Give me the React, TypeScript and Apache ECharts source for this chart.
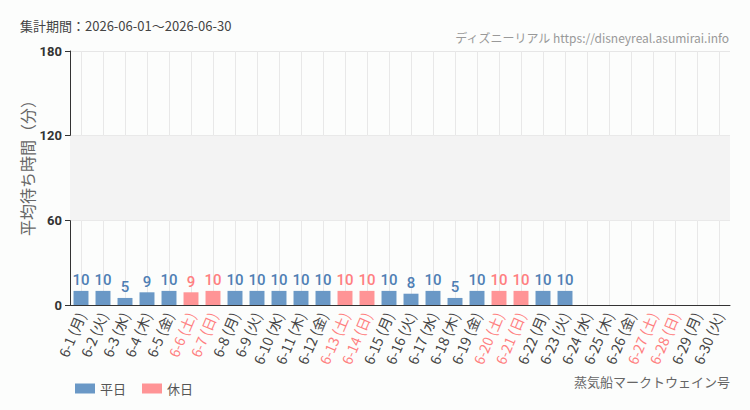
import { useEffect, useRef } from 'react'
import * as echarts from 'echarts'

const days = Array.from({ length: 30 }, (_, i) => `6-${i + 1}`)
const weekdays = ['月', '火', '水', '木', '金', '土', '日', '月', '火', '水', '木', '金', '土', '日', '月', '火', '水', '木', '金', '土', '日', '月', '火', '水', '木', '金', '土', '日', '月', '火']
const holidayFlags = [0, 0, 0, 0, 0, 1, 1, 0, 0, 0, 0, 0, 1, 1, 0, 0, 0, 0, 0, 1, 1, 0, 0, 0, 0, 0, 1, 1, 0, 0]
const waitValues: (number | null)[] = [
  10, 10, 5, 9, 10, 9, 10, 10, 10, 10,
  10, 10, 10, 10, 10, 8, 10, 5, 10, 10,
  10, 10, 10, null, null, null, null, null, null, null
]
const yTicks = [0, 60, 120, 180]

const BLUE = '#6a98c6'
const BLUE_TEXT = '#4f7fb4'
const RED = '#ff9496'
const RED_TEXT = '#ff7f80'

export default function App() {
  const chartRef = useRef<HTMLDivElement>(null)

  useEffect(() => {
    if (!chartRef.current) return
    document.body.style.margin = '0'
    const chart = echarts.init(chartRef.current, null, { renderer: 'svg' })

    const categories = days.map((d, i) => `${d} (${weekdays[i]})`)
    const weekdayData = waitValues.map((v, i) => (holidayFlags[i] ? null : v))
    const holidayData = waitValues.map((v, i) => (holidayFlags[i] ? v : null))

    const jpFont = '"Noto Sans CJK JP", sans-serif'
    const numFont = 'Roboto, sans-serif'

    const option: echarts.EChartsOption = {
      animation: false,
      backgroundColor: '#fcfdfc',
      textStyle: { fontFamily: jpFont },
      grid: { left: 70, right: 20, top: 51, bottom: 105 },
      graphic: [
        {
          type: 'text', left: 20, top: 19,
          style: { text: '集計期間：2026-06-01～2026-06-30', fill: '#444', fontSize: 13, fontFamily: jpFont }
        },
        {
          type: 'text', right: 20, top: 31,
          style: { text: 'ディズニーリアル https://disneyreal.asumirai.info', fill: '#999', fontSize: 12, fontFamily: jpFont }
        },
        {
          type: 'text', right: 20, top: 375,
          style: { text: '蒸気船マークトウェイン号', fill: '#666', fontSize: 13, fontFamily: jpFont }
        },
        {
          // y-axis title
          type: 'text', x: 27, y: 164, rotation: Math.PI / 2,
          style: {
            text: '平均待ち時間（分）', fill: '#666', fontSize: 16, fontFamily: jpFont,
            align: 'center', verticalAlign: 'middle'
          }
        }
      ],
      legend: {
        left: 70, top: 377, itemWidth: 20, itemHeight: 10, itemGap: 16,
        icon: 'rect',
        textStyle: { color: '#555', fontSize: 13 },
        data: ['平日', '休日']
      },
      xAxis: {
        type: 'category',
        data: categories,
        axisLine: { lineStyle: { color: '#333' } },
        axisTick: { alignWithLabel: true, lineStyle: { color: '#333' } },
        splitLine: { show: true, alignWithLabel: true, lineStyle: { color: '#e8e8e8' } } as any,
        axisLabel: {
          rotate: 67,
          interval: 0,
          fontSize: 14,
          margin: 8,
          color: (_v: any, idx: number) => (holidayFlags[idx] ? RED_TEXT : '#444')
        } as any
      },
      yAxis: {
        type: 'value',
        min: yTicks[0],
        max: yTicks[yTicks.length - 1],
        interval: 60,
        axisLine: { show: true, lineStyle: { color: '#333' } },
        axisTick: { show: true, lineStyle: { color: '#333' } },
        axisLabel: { color: '#333', fontSize: 13, fontWeight: 'bold', fontFamily: numFont },
        splitLine: { lineStyle: { color: '#e6e6e6' } }
      },
      series: [
        {
          name: '平日',
          type: 'bar',
          stack: 'wait',
          barWidth: '68%',
          itemStyle: { color: BLUE },
          label: { show: true, position: 'top', color: BLUE_TEXT, fontSize: 15, fontWeight: 500, fontFamily: numFont, distance: 3 },
          markArea: {
            silent: true,
            itemStyle: { color: '#f3f3f3' },
            data: [[{ yAxis: 60 }, { yAxis: 120 }]]
          },
          data: weekdayData
        },
        {
          name: '休日',
          type: 'bar',
          stack: 'wait',
          barWidth: '68%',
          itemStyle: { color: RED },
          label: { show: true, position: 'top', color: RED_TEXT, fontSize: 15, fontWeight: 500, fontFamily: numFont, distance: 3 },
          data: holidayData
        }
      ]
    }

    chart.setOption(option)
    return () => chart.dispose()
  }, [])

  return <div ref={chartRef} style={{ width: 750, height: 410 }} />
}
